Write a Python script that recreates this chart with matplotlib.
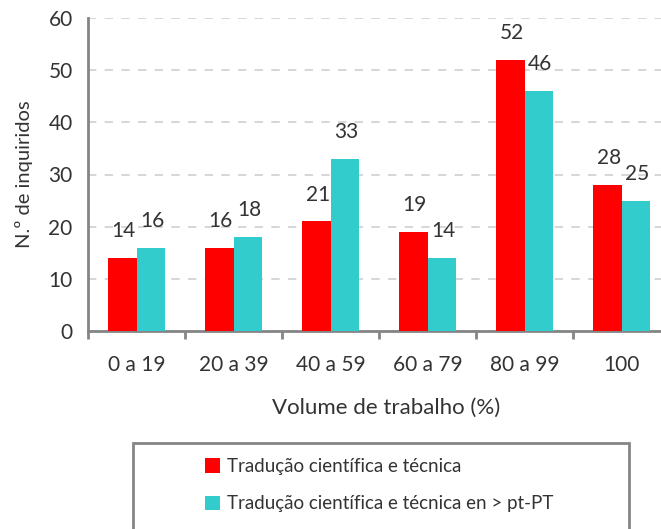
import matplotlib.pyplot as plt
import numpy as np
from matplotlib.patches import Rectangle

categorias = ['0 a 19', '20 a 39', '40 a 59', '60 a 79', '80 a 99', '100']
tecnica = [14, 16, 21, 19, 52, 28]
tecnica_en_pt = [16, 18, 33, 14, 46, 25]
series_nomes = ['Tradução científica e técnica', 'Tradução científica e técnica en > pt-PT']

plt.rcParams['font.family'] = ['Lato', 'DejaVu Sans']
cor_texto = '#333333'
cinza = '#858585'

fig = plt.figure(figsize=(6.61, 5.29), dpi=100)
ax = fig.add_axes([88 / 661, 1 - 331 / 529, 582 / 661, 313 / 529])

x = np.arange(len(categorias))
w = 0.29
b1 = ax.bar(x - w / 2, tecnica, w, color='#FF0000', label=series_nomes[0], zorder=3)
b2 = ax.bar(x + w / 2, tecnica_en_pt, w, color='#33CCCC', label=series_nomes[1], zorder=3)

for bars in (b1, b2):
    for r in bars:
        ax.annotate(f'{r.get_height():.0f}', (r.get_x() + r.get_width() / 2, r.get_height()),
                    xytext=(1, 12), textcoords='offset points', ha='center', va='bottom',
                    fontsize=15, color=cor_texto)

ax.set_xlim(-0.5, len(categorias) - 0.5)
ax.set_ylim(0, 60)
ax.set_yticks(range(0, 61, 10))
ax.set_xticks(x)
ax.set_xticklabels(categorias)
ax.set_xticks(np.arange(-0.5, len(categorias), 1), minor=True)
ax.tick_params(axis='x', which='major', length=0, pad=17, labelsize=15, labelcolor=cor_texto)
ax.tick_params(axis='x', which='minor', length=6, width=2, color=cinza, direction='out')
ax.tick_params(axis='y', length=0, pad=11, labelsize=15, labelcolor=cor_texto)

ax.grid(axis='y', linestyle=(0, (5, 5)), color='#d0d0d0', lw=1.2, zorder=0)
for s in ('top', 'right'):
    ax.spines[s].set_visible(False)
for s in ('left', 'bottom'):
    ax.spines[s].set_color(cinza)
    ax.spines[s].set_linewidth(2)

ax.set_xlabel('Volume de trabalho (%)', fontsize=16, color=cor_texto)
ax.set_ylabel('N.º de inquiridos', fontsize=14.5, color=cor_texto)
ax.xaxis.set_label_coords((386 - 88) / 582, (331 - 398) / 313)
ax.yaxis.set_label_coords((33 - 88) / 582, 0.5)

# caixa da legenda, cortada em baixo como no original
fig.patches.append(Rectangle((133 / 661, -0.05), (629 - 133) / 661, (529 - 443) / 529 + 0.05,
                             transform=fig.transFigure, fill=False, edgecolor=cinza, lw=2))
fig.legend(handles=[b1, b2], loc='upper left', bbox_to_anchor=(188 / 661, 1 - 441 / 529),
           frameon=False, handlelength=0.8, handleheight=0.8, handletextpad=0.4,
           labelspacing=1.1, fontsize=13.5, labelcolor=cor_texto)

fig.savefig('out.png', dpi=100)
